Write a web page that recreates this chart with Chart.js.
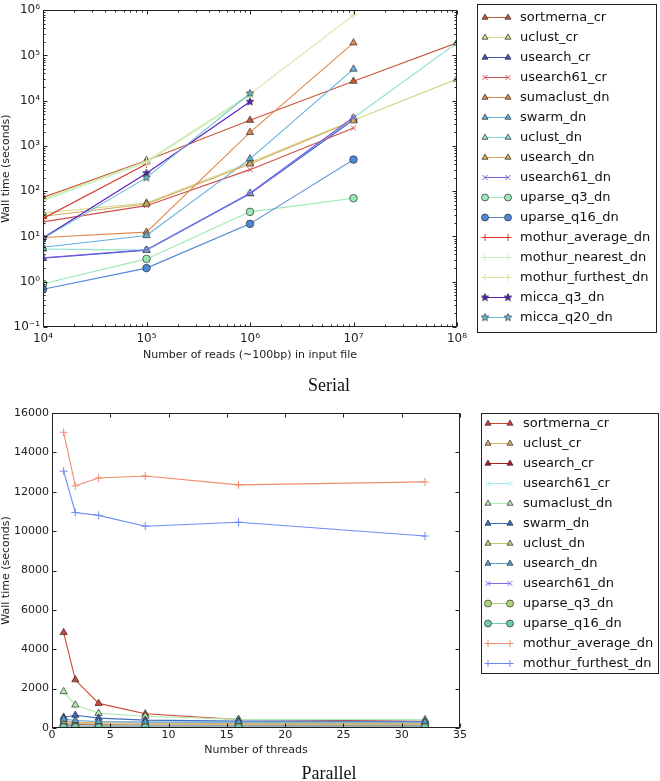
<!DOCTYPE html>
<html><head><meta charset="utf-8">
<script src="https://cdn.jsdelivr.net/npm/chart.js@4.4.1/dist/chart.umd.min.js"></script>
<style>
html,body{margin:0;padding:0;background:#fff;}
#wrap{position:relative;width:660px;height:781px;overflow:hidden;background:#fff;}
#c1{position:absolute;left:0;top:0;}
#c2{position:absolute;left:0;top:390px;}
.cap{position:absolute;font-family:"Liberation Serif",serif;font-size:18px;color:#111;transform:translate(-50%,-50%);white-space:nowrap;}
</style></head><body>
<div id="wrap">
<canvas id="c1" width="660" height="362"></canvas>
<canvas id="c2" width="660" height="391"></canvas>
<div class="cap" style="left:329px;top:385px">Serial</div>
<div class="cap" style="left:329px;top:773px">Parallel</div>
</div>
<script>
// ---------------- DATA: Serial ----------------
const serialReads = [1e4, 1e5, 1e6, 1e7, 1e8];
const serialXTicks = [1e4, 1e5, 1e6, 1e7, 1e8];
const serialYTicks = [1e-1, 1e0, 1e1, 1e2, 1e3, 1e4, 1e5, 1e6];
const ser_sortmerna_cr      = [73, 480, 3700, 27000, 190000];
const ser_uclust_cr         = [33, 55, 430, 3700, 30000];
const ser_usearch_cr        = [3.3, 5, 88, 3800, null];
const ser_usearch61_cr      = [21, 48, 300, 2500, null];
const ser_sumaclust_dn      = [9.5, 12.5, 2000, 190000, null];
const ser_swarm_dn          = [5.8, 10.5, 520, 50000, null];
const ser_uclust_dn         = [5.3, 5.0, 90, 4200, 190000];
const ser_usearch_dn        = [28, 52, 400, 3600, null];
const ser_usearch61_dn      = [3.4, 5.1, 90, 4300, null];
const ser_uparse_q3_dn      = [0.9, 3.2, 35, 70, null];
const ser_uparse_q16_dn     = [0.68, 2.0, 19, 500, null];
const ser_mothur_average_dn = [25, 400, null, null, null];
const ser_mothur_nearest_dn = [62, 430, 13000, null, null];
const ser_mothur_furthest_dn= [66, 460, 14000, 780000, null];
const ser_micca_q3_dn       = [9.3, 250, 9500, null, null];
const ser_micca_q20_dn      = [9.0, 200, 14500, null, null];

// ---------------- DATA: Parallel ----------------
const parThreads = [1, 2, 4, 8, 16, 32];
const parXTicks = [0, 5, 10, 15, 20, 25, 30, 35];
const parYTicks = [0, 2000, 4000, 6000, 8000, 10000, 12000, 14000, 16000];
const par_sortmerna_cr       = [4850, 2450, 1250, 720, 430, 340];
const par_uclust_cr          = [350, 290, 260, 240, 230, 230];
const par_usearch_cr         = [230, 180, 160, 150, 140, 140];
const par_usearch61_cr       = [150, 120, 100, 100, 100, 100];
const par_sumaclust_dn       = [1850, 1170, 750, 600, 440, 430];
const par_swarm_dn           = [550, 650, 500, 400, 350, 330];
const par_uclust_dn          = [280, 230, 200, 190, 180, 180];
const par_usearch_dn         = [450, 380, 330, 300, 300, 300];
const par_usearch61_dn       = [120, 100, 90, 90, 90, 90];
const par_uparse_q3_dn       = [60, 50, 45, 45, 45, 45];
const par_uparse_q16_dn      = [40, 35, 30, 30, 30, 30];
const par_mothur_average_dn  = [15020, 12300, 12700, 12800, 12350, 12500];
const par_mothur_furthest_dn = [13050, 10950, 10800, 10250, 10450, 9750];

// ---------------- STYLES ----------------
const serialSeries = [
  ['sortmerna_cr', ser_sortmerna_cr, '#c8583a', 'tri'],
  ['uclust_cr', ser_uclust_cr, '#d2d888', 'tri'],
  ['usearch_cr', ser_usearch_cr, '#3a56c8', 'tri'],
  ['usearch61_cr', ser_usearch61_cr, '#d0504a', 'x'],
  ['sumaclust_dn', ser_sumaclust_dn, '#e0894a', 'tri'],
  ['swarm_dn', ser_swarm_dn, '#62b0dc', 'tri'],
  ['uclust_dn', ser_uclust_dn, '#88e0d4', 'tri'],
  ['usearch_dn', ser_usearch_dn, '#d8aa5c', 'tri'],
  ['usearch61_dn', ser_usearch61_dn, '#7a5ae8', 'x'],
  ['uparse_q3_dn', ser_uparse_q3_dn, '#9ae8b4', 'o'],
  ['uparse_q16_dn', ser_uparse_q16_dn, '#4f86d8', 'o'],
  ['mothur_average_dn', ser_mothur_average_dn, '#d8342c', '+'],
  ['mothur_nearest_dn', ser_mothur_nearest_dn, '#c4f2c8', '+'],
  ['mothur_furthest_dn', ser_mothur_furthest_dn, '#cfe8a0', '+'],
  ['micca_q3_dn', ser_micca_q3_dn, '#5a1cc0', 'star'],
  ['micca_q20_dn', ser_micca_q20_dn, '#68bcd4', 'star']
];
const parallelSeries = [
  ['sortmerna_cr', par_sortmerna_cr, '#cc4632', 'tri'],
  ['uclust_cr', par_uclust_cr, '#d4b06a', 'tri'],
  ['usearch_cr', par_usearch_cr, '#b01e1e', 'tri'],
  ['usearch61_cr', par_usearch61_cr, '#a6ecec', 'x'],
  ['sumaclust_dn', par_sumaclust_dn, '#aeeaae', 'tri'],
  ['swarm_dn', par_swarm_dn, '#3e6ec4', 'tri'],
  ['uclust_dn', par_uclust_dn, '#c4c474', 'tri'],
  ['usearch_dn', par_usearch_dn, '#5a9ccc', 'tri'],
  ['usearch61_dn', par_usearch61_dn, '#7c6cf0', 'x'],
  ['uparse_q3_dn', par_uparse_q3_dn, '#b0d47a', 'o'],
  ['uparse_q16_dn', par_uparse_q16_dn, '#72cca8', 'o'],
  ['mothur_average_dn', par_mothur_average_dn, '#ee8c6c', '+'],
  ['mothur_furthest_dn', par_mothur_furthest_dn, '#6a8cf0', '+']
];

const FONT = '"DejaVu Sans", "Liberation Sans", sans-serif';
const EDGE = 'rgba(40,40,40,0.85)';

function makeStar(fill, size) {
  const c = document.createElement('canvas');
  c.width = size; c.height = size;
  const g = c.getContext('2d');
  const cx = size / 2, cy = size / 2, R = size / 2 - 1, r = R * 0.45;
  g.beginPath();
  for (let i = 0; i < 10; i++) {
    const ang = -Math.PI / 2 + i * Math.PI / 5;
    const rr = i % 2 === 0 ? R : r;
    const px = cx + rr * Math.cos(ang), py = cy + rr * Math.sin(ang);
    if (i === 0) g.moveTo(px, py); else g.lineTo(px, py);
  }
  g.closePath();
  g.fillStyle = fill; g.fill();
  g.strokeStyle = EDGE; g.lineWidth = 0.8; g.stroke();
  return c;
}

function styleFor(marker, color) {
  switch (marker) {
    case 'tri': return { pointStyle: 'triangle', pointRadius: 4.2, pointBackgroundColor: color, pointBorderColor: EDGE, pointBorderWidth: 0.8 };
    case 'o': return { pointStyle: 'circle', pointRadius: 3.8, pointBackgroundColor: color, pointBorderColor: EDGE, pointBorderWidth: 0.8 };
    case 'x': return { pointStyle: 'crossRot', pointRadius: 3.5, pointBackgroundColor: color, pointBorderColor: color, pointBorderWidth: 1 };
    case '+': return { pointStyle: 'cross', pointRadius: 4, pointBackgroundColor: color, pointBorderColor: color, pointBorderWidth: 1 };
    case 'star': return { pointStyle: makeStar(color, 10), pointRadius: 5, pointBackgroundColor: color, pointBorderColor: EDGE, pointBorderWidth: 0.8 };
  }
}

function buildDatasets(series, xs) {
  return series.map((s, i) => {
    const [label, vals, color, marker] = s;
    const data = xs.map((x, j) => ({ x: x, y: vals[j] })).filter(p => p.y !== null);
    return Object.assign({
      label, data, borderColor: color, backgroundColor: color, borderWidth: 1.1,
      fill: false, tension: 0, order: -i
    }, styleFor(marker, color));
  });
}

const sup = { '0':'⁰','1':'¹','2':'²','3':'³','4':'⁴','5':'⁵','6':'⁶','7':'⁷','8':'⁸','9':'⁹','-':'⁻' };
function pow10Label(v) {
  const e = String(Math.round(Math.log10(v)));
  return '10' + e.split('').map(ch => sup[ch]).join('');
}
function logMinors(min, max) {
  const out = [];
  for (let e = Math.floor(Math.log10(min)); e < Math.ceil(Math.log10(max)); e++) {
    for (let k = 2; k <= 9; k++) { const v = k * Math.pow(10, e); if (v > min && v < max) out.push(v); }
  }
  return out;
}

const frameTicks = {
  id: 'frameTicks',
  afterDatasetsDraw(chart, args, o) {
    const ctx = chart.ctx, a = chart.chartArea;
    const xs = chart.scales.x, ys = chart.scales.y;
    ctx.save();
    ctx.strokeStyle = '#222'; ctx.lineWidth = 1;
    const L = Math.round(a.left) + 0.5, R = Math.round(a.right) - 0.5;
    const T = Math.round(a.top) + 0.5, B = Math.round(a.bottom) - 0.5;
    ctx.beginPath();
    const tick = (vals, len, isX) => {
      vals.forEach(v => {
        if (isX) {
          const p = Math.round(xs.getPixelForValue(v)) + 0.5;
          ctx.moveTo(p, B); ctx.lineTo(p, B - len);
          ctx.moveTo(p, T); ctx.lineTo(p, T + len);
        } else {
          const p = Math.round(ys.getPixelForValue(v)) + 0.5;
          ctx.moveTo(L, p); ctx.lineTo(L + len, p);
          ctx.moveTo(R, p); ctx.lineTo(R - len, p);
        }
      });
    };
    tick(o.xMajor, 4, true); tick(o.yMajor, 4, false);
    tick(o.xMinor || [], 2, true); tick(o.yMinor || [], 2, false);
    ctx.stroke();
    ctx.strokeRect(L, T, R - L, B - T);
    ctx.restore();
  }
};

const boxLegend = {
  id: 'boxLegend',
  afterDraw(chart, args, o) {
    const ctx = chart.ctx;
    ctx.save();
    ctx.fillStyle = '#fff';
    ctx.fillRect(o.left, o.top, o.width, o.height);
    ctx.strokeStyle = '#222'; ctx.lineWidth = 1;
    ctx.strokeRect(o.left + 0.5, o.top + 0.5, o.width, o.height);
    ctx.font = o.fontSize + 'px ' + FONT;
    ctx.textBaseline = 'middle';
    chart.data.datasets.forEach((ds, i) => {
      const y = o.y0 + i * o.step;
      ctx.strokeStyle = ds.borderColor; ctx.lineWidth = 1;
      ctx.beginPath(); ctx.moveTo(o.x0, y + 0.5); ctx.lineTo(o.x1, y + 0.5); ctx.stroke();
      [o.x0, o.x1].forEach(x => {
        ctx.fillStyle = ds.pointBackgroundColor;
        ctx.strokeStyle = ds.pointBorderColor;
        ctx.lineWidth = ds.pointBorderWidth;
        Chart.helpers.drawPoint(ctx, { pointStyle: ds.pointStyle, radius: o.r, rotation: 0, borderWidth: ds.pointBorderWidth }, x, y + 0.5);
      });
      ctx.fillStyle = '#111';
      ctx.fillText(ds.label, o.textX, y + 1);
    });
    ctx.restore();
  }
};

const tickFontTop = { family: FONT, size: 12 };
const tickFont = { family: FONT, size: 11 };
const titleFont = { family: FONT, size: 11 };

new Chart(document.getElementById('c1'), {
  type: 'line',
  data: { datasets: buildDatasets(serialSeries, serialReads) },
  plugins: [frameTicks, boxLegend],
  options: {
    responsive: false, animation: false, devicePixelRatio: 1,
    layout: { padding: { top: 7, right: 203, left: 0, bottom: 0 } },
    plugins: {
      legend: { display: false }, tooltip: { enabled: false },
      frameTicks: { xMajor: serialXTicks, yMajor: serialYTicks, xMinor: logMinors(1e4, 1e8), yMinor: logMinors(1e-1, 1e6) },
      boxLegend: { left: 477, top: 4, width: 179, height: 328, y0: 17, step: 20, x0: 485, x1: 508, textX: 520, fontSize: 13, r: 3.5 }
    },
    scales: {
      x: {
        type: 'logarithmic', min: 1e4, max: 1e8,
        grid: { display: false, drawTicks: false }, border: { display: false },
        afterBuildTicks: s => { s.ticks = serialXTicks.map(v => ({ value: v })); },
        afterFit: s => { s.height = 35; },
        ticks: { callback: v => pow10Label(v), font: tickFontTop, color: '#222', padding: 5, maxRotation: 0, autoSkip: false },
        title: { display: true, text: 'Number of reads (~100bp) in input file', font: titleFont, color: '#222', padding: { top: 0, bottom: 0 } }
      },
      y: {
        type: 'logarithmic', min: 1e-1, max: 1e6,
        grid: { display: false, drawTicks: false }, border: { display: false },
        afterBuildTicks: s => { s.ticks = serialYTicks.map(v => ({ value: v })); },
        afterFit: s => { s.width = 43; },
        ticks: { callback: v => pow10Label(v), font: tickFontTop, color: '#222', padding: 3, autoSkip: false },
        title: { display: true, text: 'Wall time (seconds)', font: titleFont, color: '#222', padding: { top: 0, bottom: 0 } }
      }
    }
  }
});

new Chart(document.getElementById('c2'), {
  type: 'line',
  data: { datasets: buildDatasets(parallelSeries, parThreads) },
  plugins: [frameTicks, boxLegend],
  options: {
    responsive: false, animation: false, devicePixelRatio: 1,
    layout: { padding: { top: 23, right: 200, left: 0, bottom: 23 } },
    plugins: {
      legend: { display: false }, tooltip: { enabled: false },
      frameTicks: { xMajor: parXTicks, yMajor: parYTicks },
      boxLegend: { left: 481, top: 23, width: 177, height: 260, y0: 33, step: 20, x0: 488, x1: 510, textX: 523, fontSize: 13, r: 3.5 }
    },
    scales: {
      x: {
        type: 'linear', min: 0, max: 35,
        grid: { display: false, drawTicks: false }, border: { display: false },
        afterBuildTicks: s => { s.ticks = parXTicks.map(v => ({ value: v })); },
        afterFit: s => { s.height = 30; },
        ticks: { font: tickFont, color: '#222', padding: 1, maxRotation: 0, autoSkip: false },
        title: { display: true, text: 'Number of threads', font: titleFont, color: '#222', padding: { top: 0, bottom: 1 } }
      },
      y: {
        type: 'linear', min: 0, max: 16000,
        grid: { display: false, drawTicks: false }, border: { display: false },
        afterBuildTicks: s => { s.ticks = parYTicks.map(v => ({ value: v })); },
        afterFit: s => { s.width = 52; },
        ticks: { callback: v => String(v), font: tickFont, color: '#222', padding: 3, autoSkip: false },
        title: { display: true, text: 'Wall time (seconds)', font: titleFont, color: '#222', padding: { top: 0, bottom: 0 } }
      }
    }
  }
});
</script>
</body></html>
